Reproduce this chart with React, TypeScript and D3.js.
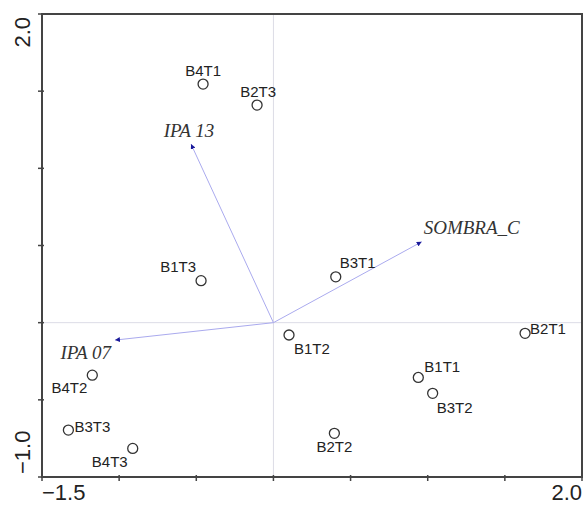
import * as d3 from "d3";

const width = 585;
const height = 506;
const margin = { top: 14, right: 3, bottom: 29, left: 42 };

// sample scores
const sampleNames = [
  "B4T1", "B2T3", "B1T3", "B3T1", "B1T2", "B2T1",
  "B1T1", "B3T2", "B2T2", "B4T2", "B3T3", "B4T3",
];
const sampleX = [-0.456, -0.106, -0.469, 0.404, 0.101, 1.631, 0.939, 1.032, 0.395, -1.174, -1.329, -0.912];
const sampleY = [1.546, 1.41, 0.272, 0.297, -0.08, -0.069, -0.355, -0.458, -0.717, -0.34, -0.696, -0.815];

// environmental variables (arrows)
const envNames = ["IPA 13", "IPA 07", "SOMBRA_C"];
const envX = [-0.534, -1.027, 0.961];
const envY = [1.157, -0.113, 0.524];

const xTicks = [-1.5, -1.0, -0.5, 0, 0.5, 1.0, 1.5, 2.0];
const yTicks = [-1.0, -0.5, 0, 0.5, 1.0, 1.5, 2.0];

// label placement relative to the mark (layout only)
const sampleLabelPos: Record<string, [number, number, string]> = {
  B4T1: [0, -8, "middle"],
  B2T3: [1, -8, "middle"],
  B1T3: [-5, -9, "end"],
  B3T1: [4, -9, "start"],
  B1T2: [5, 19, "start"],
  B2T1: [5, 1, "start"],
  B1T1: [6, -5, "start"],
  B3T2: [4, 20, "start"],
  B2T2: [0, 19, "middle"],
  B4T2: [-5, 18, "end"],
  B3T3: [6, 2, "start"],
  B4T3: [-5, 19, "end"],
};
const envLabelPos: Record<string, [number, number, string]> = {
  "IPA 13": [-2, -7, "middle"],
  "IPA 07": [-4, 19, "end"],
  SOMBRA_C: [2, -8, "start"],
};

const App = () => {
  const x = d3
    .scaleLinear()
    .domain([-1.5, 2.0])
    .range([margin.left, width - margin.right]);
  const y = d3
    .scaleLinear()
    .domain([-1.0, 2.0])
    .range([height - margin.bottom, margin.top]);

  const x0 = x(-1.5);
  const x1 = x(2.0);
  const y0 = y(-1.0);
  const y1 = y(2.0);
  const axisColor = "#444";
  const sans = "Arial, 'Liberation Sans', sans-serif";
  const fmt = d3.format(".1f");

  return (
    <svg
      width={width}
      height={height}
      style={{ position: "absolute", left: 0, top: 0, background: "#fff" }}
    >
      <defs>
        <marker
          id="head"
          viewBox="0 0 6 6"
          refX={6}
          refY={3}
          markerWidth={5}
          markerHeight={5}
          markerUnits="userSpaceOnUse"
          orient="auto"
        >
          <path d="M0,0L6,3L0,6Z" fill="#1a1a9a" />
        </marker>
      </defs>

      {/* zero lines */}
      <line x1={x(0)} x2={x(0)} y1={y1} y2={y0} stroke="#dcdce6" strokeWidth={1} />
      <line x1={x0} x2={x1} y1={y(0)} y2={y(0)} stroke="#dcdce6" strokeWidth={1} />

      {/* arrows */}
      {envNames.map((n, i) => {
        const [dx, dy, anchor] = envLabelPos[n];
        return (
          <g key={n}>
            <line
              x1={x(0)}
              y1={y(0)}
              x2={x(envX[i])}
              y2={y(envY[i])}
              stroke="#aaaaee"
              strokeWidth={1}
              markerEnd="url(#head)"
            />
            <text
              x={x(envX[i]) + dx}
              y={y(envY[i]) + dy}
              textAnchor={anchor}
              fontFamily="'Liberation Serif', 'Times New Roman', serif"
              fontStyle="italic"
              fontSize={19}
              fill="#333"
            >
              {n}
            </text>
          </g>
        );
      })}

      {/* samples */}
      {sampleNames.map((n, i) => {
        const [dx, dy, anchor] = sampleLabelPos[n];
        return (
          <g key={n}>
            <circle
              cx={x(sampleX[i])}
              cy={y(sampleY[i])}
              r={5}
              fill="none"
              stroke="#333"
              strokeWidth={1.3}
            />
            <text
              x={x(sampleX[i]) + dx}
              y={y(sampleY[i]) + dy}
              textAnchor={anchor}
              fontFamily={sans}
              fontSize={15}
              fill="#222"
            >
              {n}
            </text>
          </g>
        );
      })}

      {/* frame */}
      <rect
        x={x0}
        y={y1}
        width={x1 - x0}
        height={y0 - y1}
        fill="none"
        stroke={axisColor}
        strokeWidth={2}
      />

      {/* ticks */}
      {xTicks.map((t) => (
        <line key={"x" + t} x1={x(t)} x2={x(t)} y1={y0 - 2} y2={y0 + 4} stroke={axisColor} strokeWidth={1.5} />
      ))}
      {yTicks.map((t) => (
        <line key={"y" + t} x1={x0 - 4} x2={x0 + 2} y1={y(t)} y2={y(t)} stroke={axisColor} strokeWidth={1.5} />
      ))}

      {/* end labels */}
      <text x={x0} y={y0 + 23} textAnchor="start" fontFamily={sans} fontSize={22} fill="#222">
        {fmt(xTicks[0])}
      </text>
      <text x={x1} y={y0 + 23} textAnchor="end" fontFamily={sans} fontSize={22} fill="#222">
        {fmt(xTicks[xTicks.length - 1])}
      </text>
      <text
        transform={`translate(${x0 - 12},${y0 - 3}) rotate(-90)`}
        textAnchor="start"
        fontFamily={sans}
        fontSize={22}
        fill="#222"
      >
        {fmt(yTicks[0])}
      </text>
      <text
        transform={`translate(${x0 - 12},${y1 + 3}) rotate(-90)`}
        textAnchor="end"
        fontFamily={sans}
        fontSize={22}
        fill="#222"
      >
        {fmt(yTicks[yTicks.length - 1])}
      </text>
    </svg>
  );
};

export default App;
